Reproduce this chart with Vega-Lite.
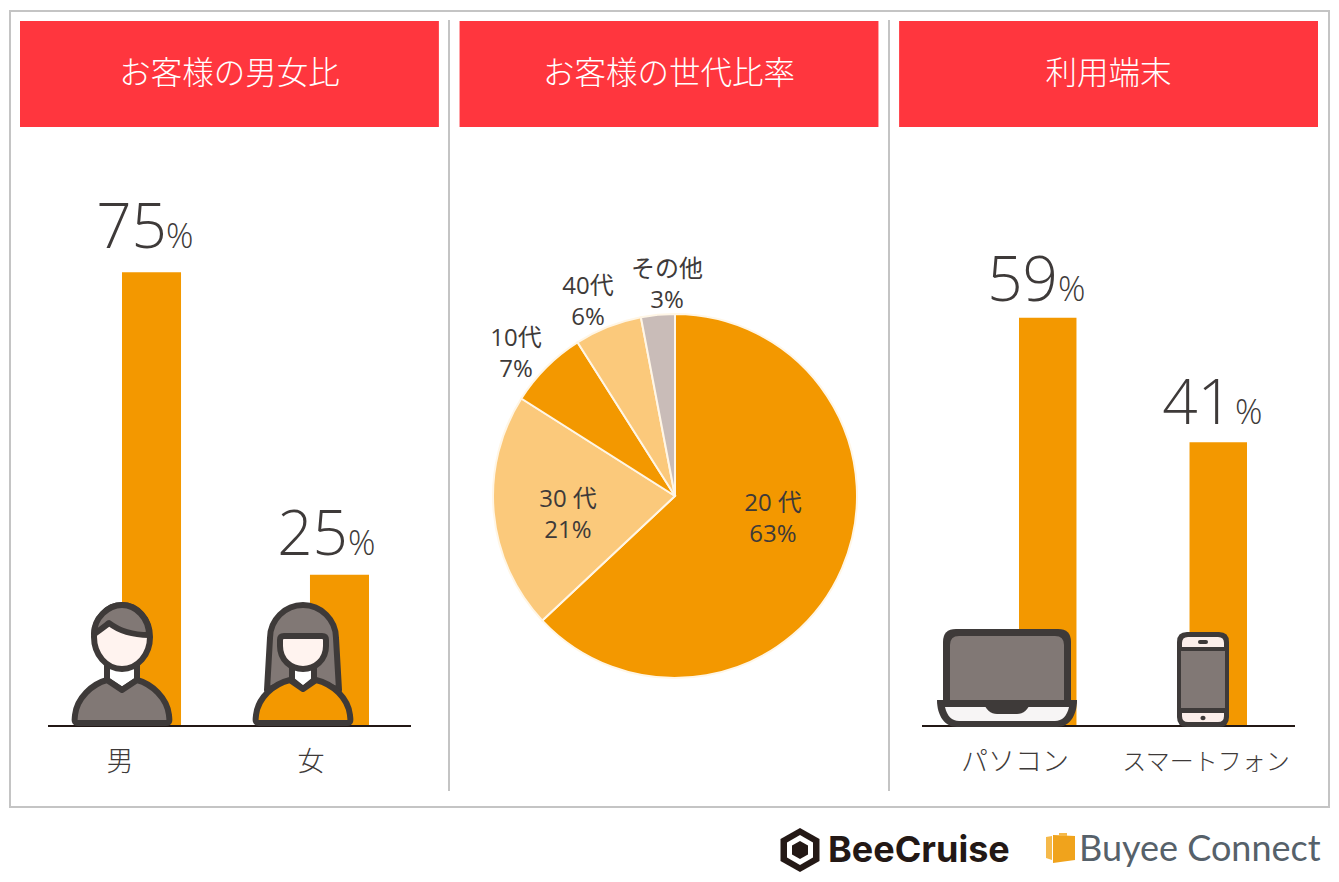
{"$schema":"https://vega.github.io/schema/vega-lite/v6.json","width":1339,"height":882,"padding":0,"autosize":{"type":"fit","contains":"padding"},"background":"#ffffff","config":{"view":{"stroke":null},"axis":{"disable":true},"legend":{"disable":true}},
"datasets":{
"panels":[{"title":"お客様の男女比"},{"title":"お客様の世代比率"},{"title":"利用端末"}],
"gender":[{"item":"男","share":75,"unit":"%"},{"item":"女","share":25,"unit":"%"}],
"device":[{"item":"パソコン","share":59,"unit":"%"},{"item":"スマートフォン","share":41,"unit":"%"}],
"generation":[{"rank":1,"group":"20代","share":63,"chart":"世代","label":"20 代\n63%"},{"rank":2,"group":"30代","share":21,"chart":"世代","label":"30 代\n21%"},{"rank":3,"group":"10代","share":7,"chart":"世代","label":"10代\n7%"},{"rank":4,"group":"40代","share":6,"chart":"世代","label":"40代\n6%"},{"rank":5,"group":"その他","share":3,"chart":"世代","label":"その他\n3%"}],
"personParts":[
{"item":"男","part":"m-neck"},{"item":"男","part":"m-body"},{"item":"男","part":"m-head"},{"item":"男","part":"m-hair"},
{"item":"女","part":"w-hair"},{"item":"女","part":"w-neck"},{"item":"女","part":"w-body"},{"item":"女","part":"w-face"}],
"deviceParts":[
{"item":"パソコン","part":"l-shell"},{"item":"パソコン","part":"l-screen"},{"item":"パソコン","part":"l-base"},{"item":"パソコン","part":"l-tray"},{"item":"パソコン","part":"l-notch"},
{"item":"スマートフォン","part":"p-shell"},{"item":"スマートフォン","part":"p-face"},{"item":"スマートフォン","part":"p-band"},{"item":"スマートフォン","part":"p-screen"},{"item":"スマートフォン","part":"p-pill"},{"item":"スマートフォン","part":"p-dot"}]
},
"layer":[
{"data":{"values":[{"name":"frame"}]},"mark":{"type":"rect","fill":"#ffffff","stroke":"#c4c4c4","strokeWidth":2},"encoding":{"x":{"datum":0,"type":"quantitative","scale":{"domain":[0,1],"range":[10,1329]}},"x2":{"datum":1},"y":{"datum":0,"type":"quantitative","scale":{"domain":[0,1],"range":[807,11]}},"y2":{"datum":1}}},
{"data":{"values":[{"divider":0},{"divider":1}]},"mark":{"type":"rule","stroke":"#c4c4c4","strokeWidth":2},"encoding":{"x":{"field":"divider","type":"quantitative","scale":{"domain":[0,1],"range":[449,889]}},"y":{"datum":0,"type":"quantitative","scale":{"domain":[0,1],"range":[791,20]}},"y2":{"datum":1}}},
{"data":{"name":"panels"},"mark":{"type":"rect","fill":"#ff363e"},"encoding":{"x":{"field":"title","type":"nominal","sort":null,"scale":{"type":"band","range":[20,1318],"paddingInner":0.047,"paddingOuter":0}},"y":{"datum":0,"type":"quantitative","scale":{"domain":[0,1],"range":[127,21]}},"y2":{"datum":1}}},
{"data":{"name":"panels"},"mark":{"type":"text","color":"#ffffff","font":"Noto Sans CJK JP","fontWeight":300,"fontSize":31.5,"baseline":"middle","dy":1},"encoding":{"text":{"field":"title","type":"nominal"},"x":{"field":"title","type":"nominal","sort":null,"scale":{"type":"band","range":[20,1318],"paddingInner":0.047,"paddingOuter":0}},"y":{"datum":0.5,"type":"quantitative","scale":{"domain":[0,1],"range":[126,21]}}}},

{"data":{"name":"gender"},"mark":{"type":"bar","fill":"#f39800"},"encoding":{"x":{"field":"item","type":"nominal","sort":null,"scale":{"type":"band","range":[122,369],"paddingInner":0.686,"paddingOuter":0}},"y":{"field":"share","type":"quantitative","scale":{"domain":[0,100],"range":[726,121]}}}},
{"data":{"name":"device"},"mark":{"type":"bar","fill":"#f39800"},"encoding":{"x":{"field":"item","type":"nominal","sort":null,"scale":{"type":"band","range":[1019,1247],"paddingInner":0.663,"paddingOuter":0}},"y":{"field":"share","type":"quantitative","scale":{"domain":[0,100],"range":[726,34]}}}},

{"data":{"values":[{"name":"gender"}]},"mark":{"type":"rule","stroke":"#231815","strokeWidth":2},"encoding":{"x":{"datum":0,"type":"quantitative","scale":{"domain":[0,1],"range":[48,411]}},"x2":{"datum":1},"y":{"datum":0,"type":"quantitative","scale":{"domain":[0,1],"range":[726,0]}}}},
{"data":{"values":[{"name":"device"}]},"mark":{"type":"rule","stroke":"#231815","strokeWidth":2},"encoding":{"x":{"datum":0,"type":"quantitative","scale":{"domain":[0,1],"range":[922,1295]}},"x2":{"datum":1},"y":{"datum":0,"type":"quantitative","scale":{"domain":[0,1],"range":[726,0]}}}},

{"data":{"name":"gender"},"mark":{"type":"text","color":"#3e3a39","font":"Open Sans","fontWeight":300,"fontSize":62,"align":"right","baseline":"alphabetic"},"encoding":{"text":{"field":"share","type":"quantitative"},"x":{"field":"item","type":"nominal","sort":null,"scale":{"type":"point","range":[167,348],"padding":0}},"y":{"field":"share","type":"quantitative","scale":{"domain":[25,75],"range":[555,248]}}}},
{"data":{"name":"gender"},"mark":{"type":"text","color":"#3e3a39","font":"Open Sans","fontWeight":300,"fontSize":34,"align":"left","baseline":"alphabetic"},"encoding":{"text":{"field":"unit","type":"nominal"},"x":{"field":"item","type":"nominal","sort":null,"scale":{"type":"point","range":[166,348],"padding":0}},"y":{"field":"share","type":"quantitative","scale":{"domain":[25,75],"range":[555,248]}}}},
{"data":{"name":"device"},"mark":{"type":"text","color":"#3e3a39","font":"Open Sans","fontWeight":300,"fontSize":62,"align":"right","baseline":"alphabetic"},"encoding":{"text":{"field":"share","type":"quantitative"},"x":{"field":"item","type":"nominal","sort":null,"scale":{"type":"point","range":[1058,1233],"padding":0}},"y":{"field":"share","type":"quantitative","scale":{"domain":[41,59],"range":[424,301]}}}},
{"data":{"name":"device"},"mark":{"type":"text","color":"#3e3a39","font":"Open Sans","fontWeight":300,"fontSize":34,"align":"left","baseline":"alphabetic"},"encoding":{"text":{"field":"unit","type":"nominal"},"x":{"field":"item","type":"nominal","sort":null,"scale":{"type":"point","range":[1058,1235],"padding":0}},"y":{"field":"share","type":"quantitative","scale":{"domain":[41,59],"range":[424,301]}}}},

{"data":{"name":"gender"},"mark":{"type":"text","color":"#3e3a39","font":"Noto Sans CJK JP","fontWeight":300,"fontSize":27,"baseline":"middle","dy":37},"encoding":{"text":{"field":"item","type":"nominal"},"x":{"field":"item","type":"nominal","sort":null,"scale":{"type":"point","range":[120,311],"padding":0}},"y":{"datum":0,"type":"quantitative","scale":{"domain":[0,1],"range":[726,0]}}}},
{"data":{"name":"device"},"mark":{"type":"text","color":"#3e3a39","font":"Noto Sans CJK JP","fontWeight":300,"baseline":"middle","dy":37},"encoding":{"text":{"field":"item","type":"nominal"},"size":{"field":"item","type":"nominal","scale":{"domain":["パソコン","スマートフォン"],"range":[27,24]}},"x":{"field":"item","type":"nominal","sort":null,"scale":{"type":"point","range":[1015,1206],"padding":0}},"y":{"datum":0,"type":"quantitative","scale":{"domain":[0,1],"range":[726,0]}}}},

{"data":{"name":"personParts"},"mark":{"type":"point","filled":true,"size":4,"opacity":1,"stroke":"#3e3a39","strokeWidth":6,"strokeJoin":"round"},"encoding":{"x":{"field":"item","type":"nominal","sort":null,"scale":{"type":"point","range":[122,303],"padding":0}},"y":{"datum":0,"type":"quantitative","scale":{"domain":[0,1],"range":[726,0]}},
"shape":{"field":"part","type":"nominal","scale":{"domain":["m-neck","m-body","m-head","m-hair","w-hair","w-neck","w-body","w-face"],"range":[
"M-15,-62 L-15,-46 L0,-36 L15,-46 L15,-62 Z",
"M-44,-3 C-49,-3 -47,-8 -47,-11 C-45,-28 -30,-42 -15,-46 L0,-36 L15,-46 C30,-42 45,-28 47,-11 C47,-8 49,-3 44,-3 Z",
"M-28,-89 C-28,-106.7 -15.5,-121 0,-121 C15.5,-121 28,-106.7 28,-89 C28,-71.3 15.5,-57 0,-57 C-15.5,-57 -28,-71.3 -28,-89 Z",
"M-28,-92 C-22,-96 -17,-100 -13,-103 C-4,-96 10,-91 27,-91 C27,-108 14,-121 0,-121 C-14,-121 -28,-108 -28,-92 Z",
"M-36,-36 L-33,-88 C-33,-106 -18,-121 0,-121 C18,-121 33,-106 33,-88 L36,-36 L0,-50 Z",
"M-11,-62 L-11,-46 L0,-37 L11,-46 L11,-62 Z",
"M-44,-3 C-49,-3 -47,-8 -47,-11 C-45,-28 -30,-42 -13,-46 L0,-37 L13,-46 C30,-42 45,-28 47,-11 C47,-8 49,-3 44,-3 Z",
"M-19,-90 L19,-90 Q23,-90 23,-86 L23,-80 C23,-66 12,-57 0,-57 C-12,-57 -23,-66 -23,-80 L-23,-86 Q-23,-90 -19,-90 Z"]}},
"fill":{"field":"part","type":"nominal","scale":{"domain":["m-neck","m-body","m-head","m-hair","w-hair","w-neck","w-body","w-face"],"range":["#ffffff","#817875","#fff3ef","#817875","#817875","#ffffff","#f39800","#fff3ef"]}}}},

{"data":{"name":"deviceParts"},"mark":{"type":"point","filled":true,"size":4,"opacity":1,"strokeWidth":0},"encoding":{"x":{"field":"item","type":"nominal","sort":null,"scale":{"type":"point","range":[1007,1203],"padding":0}},"y":{"datum":0,"type":"quantitative","scale":{"domain":[0,1],"range":[726,0]}},
"shape":{"field":"part","type":"nominal","scale":{"domain":["l-shell","l-screen","l-base","l-tray","l-notch","p-shell","p-face","p-band","p-screen","p-pill","p-dot"],"range":[
"M-51,-97 L51,-97 Q64,-97 64,-84 L64,-20 L-64,-20 L-64,-84 Q-64,-97 -51,-97 Z",
"M-48,-90 L48,-90 Q57,-90 57,-81 L57,-24 L-57,-24 L-57,-81 Q-57,-90 -48,-90 Z",
"M-70,-26 L70,-26 C70,-10 62,1 50,1 L-50,1 C-62,1 -70,-10 -70,-26 Z",
"M-62,-19 L62,-19 C60,-10 55,-5 48,-5 L-48,-5 C-55,-5 -60,-10 -62,-19 Z",
"M-24,-26 L24,-26 C22,-16 16,-12 10,-12 L-10,-12 C-16,-12 -22,-16 -24,-26 Z",
"M-16,-94 L16,-94 Q26,-94 26,-84 L26,-9 Q26,1 16,1 L-16,1 Q-26,1 -26,-9 L-26,-84 Q-26,-94 -16,-94 Z",
"M-15,-89 L15,-89 Q21,-89 21,-83 L21,-10 Q21,-4 15,-4 L-15,-4 Q-21,-4 -21,-10 L-21,-83 Q-21,-89 -15,-89 Z",
"M-22,-79 L22,-79 L22,-13 L-22,-13 Z",
"M-22,-75 L22,-75 L22,-18 L-22,-18 Z",
"M-3,-86 L3,-86 Q5,-86 5,-84 Q5,-82 3,-82 L-3,-82 Q-5,-82 -5,-84 Q-5,-86 -3,-86 Z",
"M-2.5,-8 C-2.5,-11 2.5,-11 2.5,-8 C2.5,-5 -2.5,-5 -2.5,-8 Z"]}},
"fill":{"field":"part","type":"nominal","scale":{"domain":["l-shell","l-screen","l-base","l-tray","l-notch","p-shell","p-face","p-band","p-screen","p-pill","p-dot"],"range":["#3e3a39","#817875","#3e3a39","#f7f5f5","#3e3a39","#3e3a39","#fbeeea","#3e3a39","#817875","#3e3a39","#3e3a39"]}}}},

{"data":{"name":"generation"},"mark":{"type":"arc","outerRadius":182,"stroke":"#fff6e6","strokeWidth":2},"encoding":{"theta":{"field":"share","type":"quantitative","stack":true,"scale":{"domain":[0,100],"range":[0,6.2832]}},"order":{"field":"rank","type":"quantitative"},"x":{"field":"chart","type":"nominal","scale":{"type":"point","range":[675,675],"padding":0}},"y":{"field":"chart","type":"nominal","scale":{"type":"point","range":[496,496],"padding":0}},
"color":{"field":"group","type":"nominal","scale":{"domain":["20代","30代","10代","40代","その他"],"range":["#f39800","#fbc97b","#f39800","#fbc97b","#c9bcb8"]}}}},
{"data":{"name":"generation"},"mark":{"type":"text","color":"#3e3a39","font":"Open Sans, Noto Sans CJK JP","fontSize":24,"lineBreak":"\n","lineHeight":30.5,"baseline":"middle","align":"center"},"encoding":{"text":{"field":"label","type":"nominal"},"x":{"field":"share","type":"quantitative","scale":{"domain":[3,6,7,21,63],"range":[667,588,516,568,773],"zero":false}},"y":{"field":"share","type":"quantitative","scale":{"domain":[3,6,7,21,63],"range":[270,287,339,500,504],"zero":false}}}},

{"data":{"values":[{"part":"outer"},{"part":"ring"},{"part":"core"}]},"mark":{"type":"point","filled":true,"size":4,"opacity":1,"strokeWidth":0},"encoding":{"x":{"datum":"BeeCruise","type":"nominal","scale":{"type":"point","range":[800,800],"padding":0}},"y":{"datum":"BeeCruise","type":"nominal","scale":{"type":"point","range":[850,850],"padding":0}},
"shape":{"field":"part","type":"nominal","scale":{"domain":["outer","ring","core"],"range":["M0,-22 L19.5,-11 L19.5,11 L0,22 L-19.5,11 L-19.5,-11 Z","M0,-15 L13,-7.5 L13,7.5 L0,15 L-13,7.5 L-13,-7.5 Z","M0,-9 L8,-4.5 L8,4.5 L0,9 L-8,4.5 L-8,-4.5 Z"]}},
"fill":{"field":"part","type":"nominal","scale":{"domain":["outer","ring","core"],"range":["#231815","#ffffff","#231815"]}}}},
{"data":{"values":[{"brand":"BeeCruise"}]},"mark":{"type":"text","color":"#231815","font":"Inter","fontWeight":700,"fontSize":36,"align":"left","baseline":"alphabetic"},"encoding":{"text":{"field":"brand","type":"nominal"},"x":{"field":"brand","type":"nominal","scale":{"type":"point","range":[828,828],"padding":0}},"y":{"field":"brand","type":"nominal","scale":{"type":"point","range":[862,862],"padding":0}}}},
{"data":{"values":[{"part":"flap"},{"part":"box"},{"part":"tape"}]},"mark":{"type":"point","filled":true,"size":4,"opacity":1,"strokeWidth":0},"encoding":{"x":{"datum":"Buyee","type":"nominal","scale":{"type":"point","range":[1060,1060],"padding":0}},"y":{"datum":"Buyee","type":"nominal","scale":{"type":"point","range":[848,848],"padding":0}},
"shape":{"field":"part","type":"nominal","scale":{"domain":["flap","box","tape"],"range":["M-14,-11 L-8,-12 L-8,12 L-14,10 Z","M-7,-13 L15,-12 L15,12 L-7,15 Z","M-1,-15 L7,-15 L7,-12 L-1,-12 Z"]}},
"fill":{"field":"part","type":"nominal","scale":{"domain":["flap","box","tape"],"range":["#f5b94a","#f0a31c","#f5b94a"]}}}},
{"data":{"values":[{"brand":"Buyee Connect"}]},"mark":{"type":"text","color":"#56616a","font":"Lato","fontSize":36,"align":"left","baseline":"alphabetic"},"encoding":{"text":{"field":"brand","type":"nominal"},"x":{"field":"brand","type":"nominal","scale":{"type":"point","range":[1079,1079],"padding":0}},"y":{"field":"brand","type":"nominal","scale":{"type":"point","range":[861,861],"padding":0}}}}
],
"resolve":{"scale":{"x":"independent","y":"independent","color":"independent","fill":"independent","shape":"independent","theta":"independent","size":"independent"}}}
